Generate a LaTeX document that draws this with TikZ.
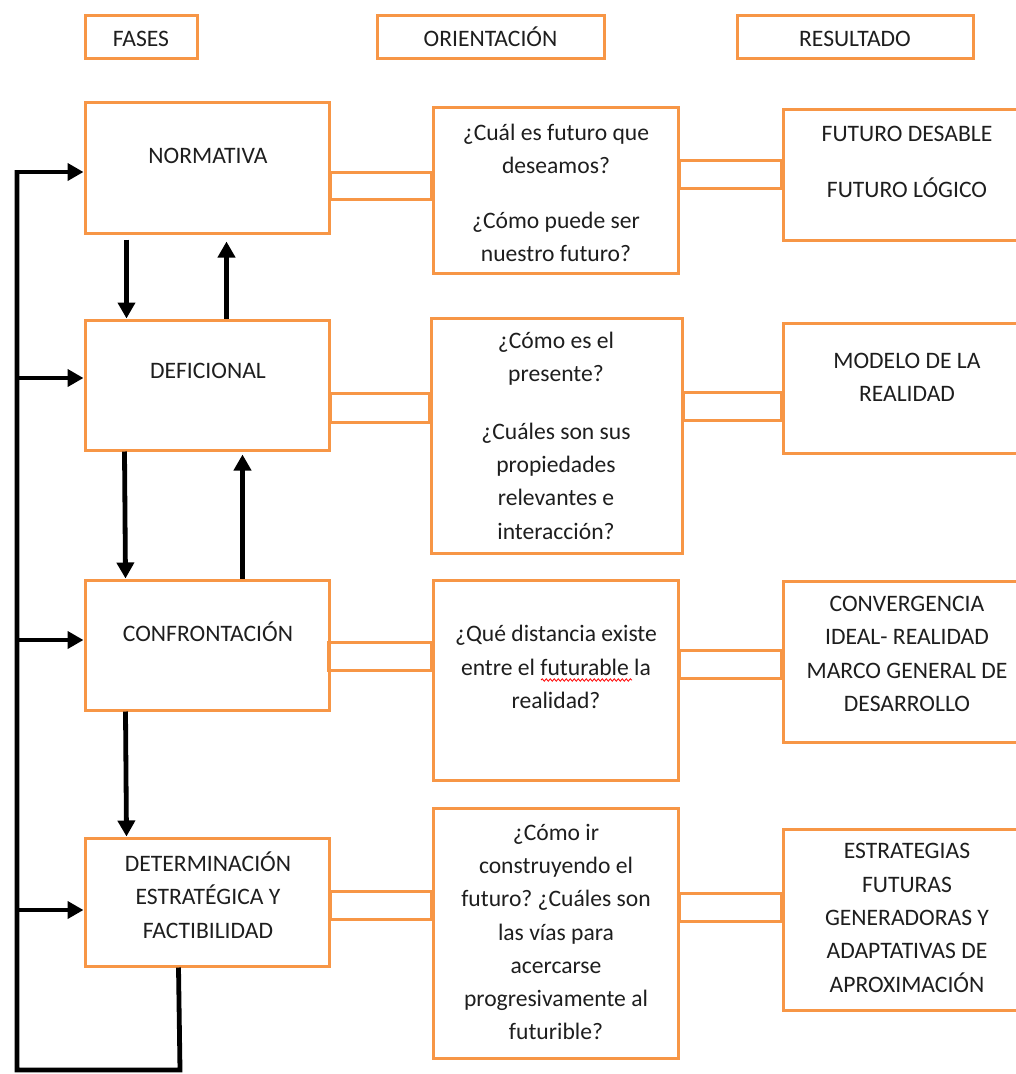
\documentclass[tikz,border=0pt]{standalone}
\usepackage{fontspec}
\setmainfont{Carlito}
\usetikzlibrary{arrows.meta,calc,decorations.pathmorphing}
\definecolor{orng}{HTML}{F79646}
\definecolor{txt}{HTML}{1E1E1E}
\frenchspacing
\begin{document}
\begin{tikzpicture}[x=1pt,y=-1pt,
  box/.style={draw=orng,line width=3pt,inner sep=0pt},
  bar/.style={draw=orng,line width=3pt},
  lbl/.style={text=txt,font=\fontsize{23.6}{33.3}\selectfont,align=center,inner sep=0pt},
  arr/.style={line width=4.8pt,-{Triangle[length=16pt,width=17pt]}},
  fb/.style={line width=4.8pt}]
\useasboundingbox (0,0) rectangle (1016,1074);
\clip (0,0) rectangle (1016,1074);
% headers
\node[box,minimum width=112,minimum height=43] (h1) at (141,36.5) {};
\node[box,minimum width=227,minimum height=43] (h2) at (490.5,36.5) {};
\node[box,minimum width=236,minimum height=43] (h3) at (855,36.5) {};
\node[lbl] (t-h1) at (141,39) {FASES};
\node[lbl] (t-h2) at (490.5,37) {ORIENTACIÓN};
\node[lbl] (t-h3) at (855,39) {RESULTADO};
% column 1
\node[box,minimum width=244,minimum height=131] (n1) at (207,167.5) {};
\node[box,minimum width=244,minimum height=130] (n2) at (207,385) {};
\node[box,minimum width=244,minimum height=130] (n3) at (207,645) {};
\node[box,minimum width=244,minimum height=128] (n4) at (207,902) {};
\node[lbl] (t-n1) at (208,156) {NORMATIVA};
\node[lbl] (t-n2) at (208,371) {DEFICIONAL};
\node[lbl] (t-n3) at (208,632) {CONFRONTACIÓN};
\node[lbl] (t-n4) at (208,895) {DETERMINACIÓN\\ESTRATÉGICA Y\\FACTIBILIDAD};
% column 2
\node[box,minimum width=245,minimum height=166] (q1) at (555.5,190) {};
\node[box,minimum width=251,minimum height=235] (q2) at (556.5,435.5) {};
\node[box,minimum width=245,minimum height=200] (q3) at (555.5,680) {};
\node[box,minimum width=245,minimum height=250] (q4) at (555.5,933) {};
\node[lbl] (t-q1a) at (556,149) {¿Cuál es futuro que\\deseamos?};
\node[lbl] (t-q1b) at (556,237) {¿Cómo puede ser\\nuestro futuro?};
\node[lbl] (t-q2a) at (556,359) {¿Cómo es el\\presente?};
\node[lbl] (t-q2b) at (556,481) {¿Cuáles son sus\\propiedades\\relevantes e\\interacción?};
\node[lbl] (t-q3) at (556,667) {¿Qué distancia existe\\entre el futurable la\\realidad?};
\node[lbl] (t-q4) at (556,932) {¿Cómo ir\\construyendo el\\futuro? ¿Cuáles son\\las vías para\\acercarse\\progresivamente al\\futurible?};
% column 3
\node[box,minimum width=248,minimum height=131] (r1) at (907,174.5) {};
\node[box,minimum width=248,minimum height=130] (r2) at (907,388) {};
\node[box,minimum width=248,minimum height=161] (r3) at (907,661.5) {};
\node[box,minimum width=248,minimum height=181] (r4) at (907,919.5) {};
\node[lbl] (t-r1a) at (907,134) {FUTURO DESABLE};
\node[lbl] (t-r1b) at (907,188) {FUTURO LÓGICO};
\node[lbl] (t-r2) at (907,377) {MODELO DE LA\\REALIDAD};
\node[lbl] (t-r3) at (907,654) {CONVERGENCIA\\IDEAL- REALIDAD\\MARCO GENERAL DE\\DESARROLLO};
\node[lbl] (t-r4) at (907,918) {ESTRATEGIAS\\FUTURAS\\GENERADORAS Y\\ADAPTATIVAS DE\\APROXIMACIÓN};
% spelling underline
\draw[red,line width=0.8pt,decorate,decoration={snake,amplitude=1.2pt,segment length=4pt}] (541,680) -- (632,680);
% bars row 1
\draw[bar] ($(n1.east)+(0,4.5)$) rectangle ($(q1.west)+(0,9)$);
\draw[bar] ($(q1.east)+(0,-30)$) rectangle ($(r1.west)+(0,13.5)$);
% row 2
\draw[bar] ($(n2.east)+(0,8)$) rectangle ($(q2.west)+(0,-13.5)$);
\draw[bar] ($(q2.east)+(0,-43.5)$) rectangle ($(r2.west)+(0,32)$);
% row 3
\draw[bar] ($(n3.east)+(-2,-3)$) rectangle ($(q3.west)+(0,-10)$);
\draw[bar] ($(q3.east)+(0,-30)$) rectangle ($(r3.west)+(0,16.5)$);
% row 4
\draw[bar] ($(n4.east)+(0,-11)$) rectangle ($(q4.west)+(0,-14)$);
\draw[bar] ($(q4.east)+(0,-40)$) rectangle ($(r4.west)+(0,1.5)$);
% vertical arrows
\draw[arr] ($(n1.south west)+(43,5)$) -- ($(n2.north west)+(43,0)$);
\draw[arr] ($(n2.north west)+(143,0)$) -- ($(n1.south west)+(143,7)$);
\draw[arr] ($(n2.south west)+(41,0)$) -- ($(n3.north west)+(42,0)$);
\draw[arr] ($(n3.north west)+(159,0)$) -- ($(n2.south west)+(159,3)$);
\draw[arr] ($(n3.south west)+(42,0)$) -- ($(n4.north west)+(43,0)$);
% feedback loop
\coordinate (c1) at (180,1070);
\coordinate (c2) at (17,1070);
\draw[fb] ($(n4.south west)+(95,0)$) -- (c1) -- (c2) -- (17,170);
\draw[arr] (17,172) -- ($(n1.west)+(0,4.5)$);
\draw[arr] (17,378) -- ($(n2.west)+(0,-7)$);
\draw[arr] (17,640) -- ($(n3.west)+(0,-5)$);
\draw[arr] (17,910) -- ($(n4.west)+(0,8)$);
\end{tikzpicture}
\end{document}
